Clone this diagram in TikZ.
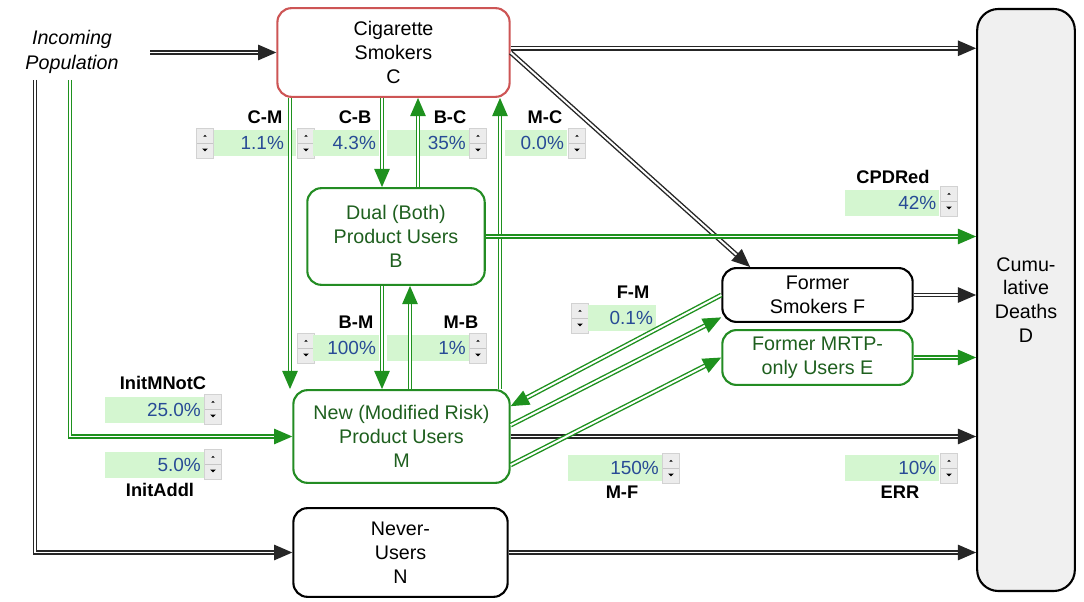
\documentclass[tikz,border=0pt]{standalone}
\usepackage{fontspec}
\setmainfont{Liberation Sans}
\usetikzlibrary{arrows.meta, positioning, calc}

\newdimen\pix \pix=0.7087pt

\definecolor{smokered}{RGB}{205,85,85}
\definecolor{flowgreen}{RGB}{30,145,30}
\definecolor{boxgreen}{RGB}{35,140,35}
\definecolor{textgreen}{RGB}{30,95,30}
\definecolor{mint}{RGB}{212,246,208}
\definecolor{valblue}{RGB}{40,75,150}
\definecolor{deathgray}{RGB}{240,240,240}

\begin{document}
\begin{tikzpicture}[x=0.025cm, y=-0.025cm,
  stock/.style={draw, line width=1.5pt, rounded corners=10pt, align=center, inner sep=0pt, font=\fontsize{14}{17}\selectfont},
  pipe/.style={draw=black!85, double=white, line width=1pt, double distance=1.4pt, -{Triangle[length=13pt, width=11pt]}},
  gpipe/.style={pipe, draw=flowgreen},
  lab/.style={font=\bfseries\fontsize{13}{15}\selectfont, inner sep=0pt},
  val/.style={fill=mint, text=valblue, align=right, inner xsep=2pt, inner ysep=0pt, minimum height=26\pix, font=\fontsize{13.5}{15}\selectfont},
  spin/.style={draw=gray!35, fill=gray!15, minimum width=17\pix, minimum height=30\pix, inner sep=0pt,
    path picture={
      \draw[gray!45] (path picture bounding box.west) -- (path picture bounding box.east);
      \fill[black] ($(path picture bounding box.center)+(-1.2pt,4.5pt)$) -- ++(2.4pt,0pt) -- ++(-1.2pt,1.2pt) -- cycle;
      \fill[black] ($(path picture bounding box.center)+(-2pt,-4pt)$) -- ++(4pt,0pt) -- ++(-2pt,-2pt) -- cycle;
    }}
]
\useasboundingbox (0,0) rectangle (1084,602);

% stocks
\node[font=\itshape\fontsize{14}{17.5}\selectfont, align=center, inner sep=0pt] (inpop) at (72,52) {Incoming\\Population};
\node[stock, draw=smokered, minimum width=233\pix, minimum height=89\pix] (C) at (393.5,52.5) {Cigarette\\Smokers\\C};
\node[stock, draw=boxgreen, text=textgreen, minimum width=178\pix, minimum height=97\pix] (B) at (396,236.5) {Dual (Both)\\Product Users\\B};
\node[stock, draw=boxgreen, text=textgreen, minimum width=217\pix, minimum height=93\pix] (M) at (401.5,436.5) {New (Modified Risk)\\Product Users\\M};
\node[stock, minimum width=215\pix, minimum height=89\pix] (N) at (400.5,552.5) {Never-\\Users\\N};
\node[stock, minimum width=191\pix, minimum height=54\pix] (F) at (817.5,295) {Former\\Smokers F};
\node[stock, draw=boxgreen, text=textgreen, minimum width=191\pix, minimum height=55\pix] (E) at (817.5,357.5) {Former MRTP-\\only Users E};
\node[stock, fill=deathgray, rounded corners=15pt, minimum width=98\pix, minimum height=584\pix] (D) at (1026,300) {Cumu-\\lative\\Deaths\\D};

% rate inputs
\node[spin] (cmS) at (205,143) {};
\node[val, text width=76\pix] (cmV) at (255,143) {1.1\%\hspace*{9\pix}};
\node[lab] (cmL) at (265,117) {C-M};
\node[spin] (cbS) at (306,143) {};
\node[val, text width=60\pix] (cbV) at (346,143) {4.3\%};
\node[lab] (cbL) at (355,117) {C-B};
\node[val, text width=76\pix] (bcV) at (428,143) {35\%};
\node[spin] (bcS) at (478,143) {};
\node[lab] (bcL) at (450,117) {B-C};
\node[val, text width=56\pix] (mcV) at (536,143) {0.0\%};
\node[spin] (mcS) at (577,143) {};
\node[lab] (mcL) at (545,117) {M-C};

\node[spin] (bmS) at (306,348) {};
\node[val, text width=60\pix] (bmV) at (346,348) {100\%};
\node[lab] (bmL) at (356,322) {B-M};
\node[val, text width=76\pix] (mbV) at (428,348) {1\%};
\node[spin] (mbS) at (478,348) {};
\node[lab] (mbL) at (461,322) {M-B};

\node[spin] (fmS) at (580,318) {};
\node[val, text width=62\pix] (fmV) at (622,318) {0.1\%};
\node[lab] (fmL) at (633,292) {F-M};

\node[lab] (cpdL) at (893,177) {CPDRed};
\node[val, text width=89\pix] (cpdV) at (892,203) {42\%};
\node[spin] (cpdS) at (949,201) {};

\node[lab] (imL) at (163,383) {InitMNotC};
\node[val, text width=93\pix] (imV) at (154.5,410) {25.0\%};
\node[spin] (imS) at (213,409) {};
\node[val, text width=93\pix] (iaV) at (154.5,465) {5.0\%};
\node[spin] (iaS) at (213,464) {};
\node[lab] (iaL) at (160,490) {InitAddl};

\node[val, text width=88\pix] (mfV) at (615,468) {150\%};
\node[spin] (mfS) at (671,468) {};
\node[lab] (mfL) at (622,492) {M-F};
\node[val, text width=89\pix] (errV) at (892,468) {10\%};
\node[spin] (errS) at (949,468) {};
\node[lab] (errL) at (900,492) {ERR};

% flows
\coordinate (srcC) at (150,52.5);
\coordinate (srcN) at (35,80);
\coordinate (srcM) at (70,80);
\draw[pipe] (srcC) -- (C.west);
\draw[pipe] (srcN) |- (N.west);
\draw[gpipe] (srcM) |- (M.west);
\draw[pipe] ([yshift=3pt]C.east) -- ([yshift=3pt]C.east -| D.west);
\draw[pipe] (C.east) -- ($(F.north west)!0.15!(F.north east)$);
\draw[gpipe] (290,0 |- C.south) -- (290,0 |- M.north);
\draw[gpipe] (382,0 |- C.south) -- (382,0 |- B.north);
\draw[gpipe] (418,0 |- B.north) -- (418,0 |- C.south);
\draw[gpipe] (500,0 |- M.north) -- (500,0 |- C.south);
\draw[gpipe] (382,0 |- B.south) -- (382,0 |- M.north);
\draw[gpipe] (410,0 |- M.north) -- (410,0 |- B.south);
\draw[gpipe] (B.east) -- (B.east -| D.west);
\draw[pipe] (F.east) -- (F.east -| D.west);
\draw[gpipe] (E.east) -- (E.east -| D.west);
\draw[pipe] (M.east) -- (M.east -| D.west);
\draw[pipe] (N.east) -- (N.east -| D.west);
\draw[gpipe] (F.west) -- ($(M.north east)!0.18!(M.south east)$);
\draw[gpipe] ($(M.north east)!0.38!(M.south east)$) -- ($(F.north west)!0.9!(F.south west)$);
\draw[gpipe] ($(M.north east)!0.8!(M.south east)$) -- (E.west);
\end{tikzpicture}
\end{document}
